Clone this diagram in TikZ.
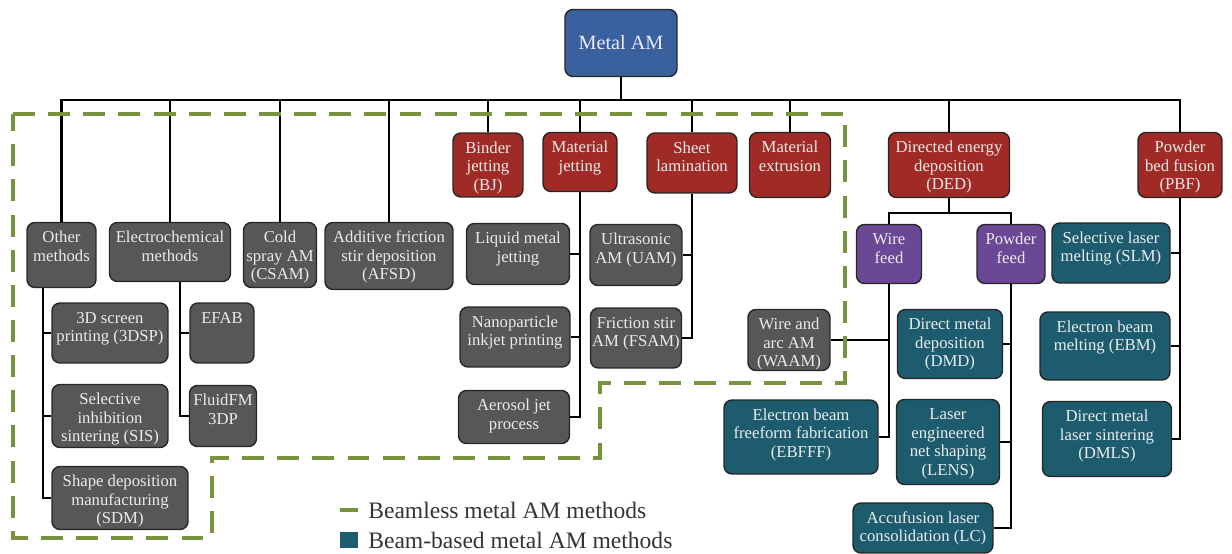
\documentclass[tikz,border=0pt]{standalone}
\usepackage{fontspec}
\setmainfont{Liberation Serif}
\usetikzlibrary{shapes,arrows,positioning}
\usepackage{xcolor}
\definecolor{amblue}{HTML}{3B609E}
\definecolor{amred}{HTML}{A02A25}
\definecolor{amgray}{HTML}{575757}
\definecolor{ampurple}{HTML}{6B4896}
\definecolor{amteal}{HTML}{1D5C6F}
\definecolor{amgreen}{HTML}{77933C}
% box text: width, height (cm), lines
\newcommand{\bx}[3]{\parbox[t][#2cm][t]{#1cm}{\centering\rule{0pt}{11.5pt}#3}}

\begin{document}
\begin{tikzpicture}[x=0.02cm,y=-0.02cm]
  \tikzstyle{box} = [rectangle, rounded corners=4.5pt, draw=black!85, line width=0.8pt, inner sep=0pt, text=white!92!black, font=\fontsize{9.5}{10.5}\selectfont]
  \tikzstyle{greybox} = [box, fill=amgray]
  \tikzstyle{redbox} = [box, fill=amred]
  \tikzstyle{feedbox} = [box, fill=ampurple]
  \tikzstyle{beambox} = [box, fill=amteal]
  \tikzstyle{link} = [line width=1.4pt, black]
  \tikzstyle{legend} = [inner sep=0pt, text=black!80, font=\fontsize{13.4}{15}\selectfont]

  \useasboundingbox (0,0) rectangle (1232,554);

  % root
  \node[box, fill=amblue, text=blue!8!white, font=\fontsize{11.5}{13}\selectfont, minimum width=2.24cm, minimum height=1.34cm] (root) at (621,43) {Metal AM};

  % first level
  \node[greybox] (other) at (61.5,255) {\bx{1.38}{1.3}{Other\\methods}};
  \node[greybox] (echem) at (170,252) {\bx{2.42}{1.18}{Electrochemical\\methods}};
  \node[greybox] (csam) at (280,255) {\bx{1.46}{1.3}{Cold\\spray AM\\(CSAM)}};
  \node[greybox] (afsd) at (389,256) {\bx{2.56}{1.34}{Additive friction\\stir deposition\\(AFSD)}};
  \node[redbox] (bj) at (488,165) {\bx{1.4}{1.28}{Binder\\jetting\\(BJ)}};
  \node[redbox] (mj) at (580,162) {\bx{1.48}{1.18}{Material\\jetting}};
  \node[redbox] (sl) at (692,163) {\bx{1.8}{1.2}{Sheet\\lamination}};
  \node[redbox] (me) at (790,165) {\bx{1.62}{1.3}{Material\\extrusion}};
  \node[redbox] (ded) at (949,165) {\bx{2.42}{1.3}{Directed energy\\deposition\\(DED)}};
  \node[redbox] (pbf) at (1180,165) {\bx{1.68}{1.3}{Powder\\bed fusion\\(PBF)}};

  % other / electrochemical
  \node[greybox] (scr) at (110,333) {\bx{2.32}{1.2}{3D screen\\printing (3DSP)}};
  \node[greybox] (sis) at (110,416) {\bx{2.32}{1.26}{Selective\\inhibition\\sintering (SIS)}};
  \node[greybox] (sdm) at (120,498) {\bx{2.72}{1.26}{Shape deposition\\manufacturing\\(SDM)}};
  \node[greybox] (efab) at (222,333) {\bx{1.28}{1.2}{EFAB}};
  \node[greybox] (fluid) at (223,416) {\bx{1.34}{1.22}{FluidFM\\3DP}};

  % material jetting / sheet lamination
  \node[greybox] (lmj) at (518,254) {\bx{2.06}{1.22}{Liquid metal\\jetting}};
  \node[greybox] (nano) at (515,337) {\bx{2.2}{1.2}{Nanoparticle\\inkjet printing}};
  \node[greybox] (aero) at (514,417) {\bx{2.22}{1.06}{Aerosol jet\\process}};
  \node[greybox] (uam) at (636,255) {\bx{1.84}{1.22}{Ultrasonic\\AM (UAM)}};
  \node[greybox] (fsam) at (636,338) {\bx{1.82}{1.2}{Friction stir\\AM (FSAM)}};

  % DED
  \node[feedbox] (wire) at (889,254) {\bx{1.3}{1.18}{Wire\\feed}};
  \node[feedbox] (powder) at (1011,254) {\bx{1.36}{1.18}{Powder\\feed}};
  \node[greybox] (waam) at (789,340) {\bx{1.64}{1.22}{Wire and\\arc AM\\(WAAM)}};
  \node[beambox] (ebfff) at (801,437) {\bx{3.08}{1.48}{Electron beam\\freeform fabrication\\(EBFFF)}};
  \node[beambox] (dmd) at (950,344) {\bx{2.1}{1.38}{Direct metal\\deposition\\(DMD)}};
  \node[beambox] (lens) at (948,442) {\bx{2.06}{1.7}{Laser\\engineered\\net shaping\\(LENS)}};
  \node[beambox] (lc) at (923,528) {\bx{2.8}{1.0}{Accufusion laser\\consolidation (LC)}};

  % PBF
  \node[beambox] (slm) at (1111,253) {\bx{2.36}{1.2}{Selective laser\\melting (SLM)}};
  \node[beambox] (ebm) at (1105,346) {\bx{2.6}{1.36}{Electron beam\\melting (EBM)}};
  \node[beambox] (dmls) at (1107,439) {\bx{2.58}{1.5}{Direct metal\\laser sintering\\(DMLS)}};

  % tree lines
  \foreach \c in {other,echem,csam,afsd,bj,mj,sl,me,ded,pbf}
    \draw[link] (root.south) -- ++(0,23) -| (\c.north);
  \foreach \c in {scr,sis,sdm}
    \draw[link] ([xshift=-0.37cm]other.south) |- (\c.west);
  \foreach \c in {efab,fluid}
    \draw[link] ([xshift=0.2cm]echem.south) |- (\c.west);
  \foreach \c in {lmj,nano,aero}
    \draw[link] (mj.south) |- (\c.east);
  \foreach \c in {uam,fsam}
    \draw[link] (sl.south) |- (\c.east);
  \foreach \c in {wire,powder}
    \draw[link] (ded.south) -- ++(0,15) -| (\c.north);
  \foreach \c in {waam,ebfff}
    \draw[link] (wire.south) |- (\c.east);
  \foreach \c in {dmd,lens,lc}
    \draw[link] (powder.south) |- (\c.east);
  \foreach \c in {slm,ebm,dmls}
    \draw[link] (pbf.south) |- (\c.east);

  % beamless region
  \draw[amgreen, line width=2.3pt, dash pattern=on 12.5pt off 7.5pt]
    (13,114) -- (845,114) -- (845,383) -- (600,383) -- (600,458)
    -- (212,458) -- (212,538) -- (13,538) -- cycle;

  % legend
  \node[legend, anchor=west] (beamless) at (368,510) {Beamless metal AM methods};
  \node[legend, anchor=west] (beambased) at (368,540) {Beam-based metal AM methods};
  \draw[amgreen, line width=2.3pt] ([xshift=-0.2cm]beamless.west) -- ++(-18,0);
  \fill[amteal] ([xshift=-0.2cm, yshift=0.17cm]beambased.west) rectangle ++(-18,16);
\end{tikzpicture}
\end{document}
